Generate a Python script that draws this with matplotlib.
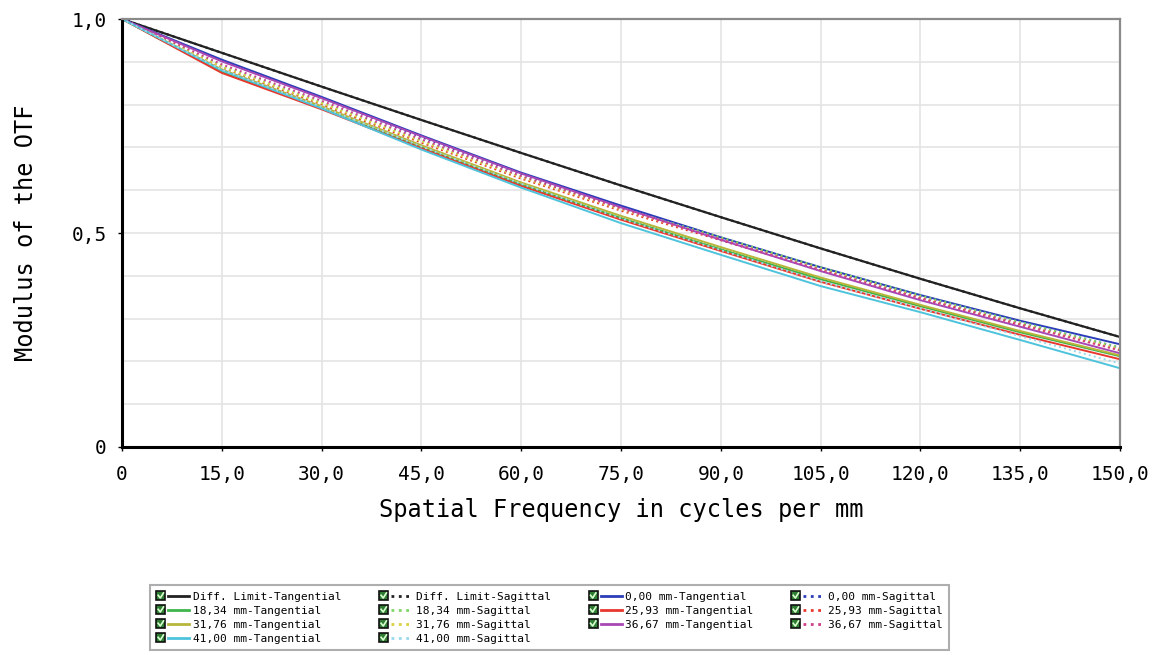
import matplotlib
matplotlib.use("Agg")
import matplotlib.pyplot as plt
from matplotlib.lines import Line2D
from matplotlib.patches import Rectangle
from matplotlib.legend_handler import HandlerBase

# ---- data ----
freq = [0, 15, 30, 45, 60, 75, 90, 105, 120, 135, 150]

diff_t = [1.000, 0.921, 0.842, 0.764, 0.687, 0.611, 0.537, 0.464, 0.393, 0.324, 0.257]
diff_s = [1.000, 0.921, 0.842, 0.764, 0.687, 0.611, 0.537, 0.464, 0.393, 0.324, 0.257]
f000_t = [1.000, 0.905, 0.818, 0.728, 0.641, 0.564, 0.490, 0.420, 0.355, 0.295, 0.240]
f000_s = [1.000, 0.902, 0.815, 0.724, 0.638, 0.561, 0.488, 0.418, 0.352, 0.291, 0.232]
f1834_t = [1.000, 0.876, 0.791, 0.700, 0.613, 0.535, 0.462, 0.392, 0.329, 0.268, 0.212]
f1834_s = [1.000, 0.890, 0.805, 0.716, 0.632, 0.558, 0.490, 0.420, 0.354, 0.292, 0.233]
f2593_t = [1.000, 0.874, 0.789, 0.698, 0.610, 0.531, 0.458, 0.386, 0.323, 0.262, 0.205]
f2593_s = [1.000, 0.885, 0.800, 0.711, 0.627, 0.552, 0.483, 0.413, 0.347, 0.285, 0.226]
f3176_t = [1.000, 0.882, 0.796, 0.705, 0.618, 0.540, 0.467, 0.396, 0.332, 0.271, 0.214]
f3176_s = [1.000, 0.888, 0.803, 0.714, 0.630, 0.555, 0.486, 0.416, 0.350, 0.288, 0.229]
f3667_t = [1.000, 0.901, 0.815, 0.726, 0.639, 0.560, 0.484, 0.411, 0.343, 0.281, 0.219]
f3667_s = [1.000, 0.894, 0.809, 0.719, 0.633, 0.557, 0.485, 0.414, 0.348, 0.287, 0.226]
f4100_t = [1.000, 0.880, 0.791, 0.695, 0.606, 0.523, 0.449, 0.376, 0.315, 0.250, 0.184]
f4100_s = [1.000, 0.882, 0.795, 0.702, 0.615, 0.534, 0.460, 0.387, 0.323, 0.259, 0.195]

labels = ["Diff. Limit-Tangential", "Diff. Limit-Sagittal",
          "0,00 mm-Tangential", "0,00 mm-Sagittal",
          "18,34 mm-Tangential", "18,34 mm-Sagittal",
          "25,93 mm-Tangential", "25,93 mm-Sagittal",
          "31,76 mm-Tangential", "31,76 mm-Sagittal",
          "36,67 mm-Tangential", "36,67 mm-Sagittal",
          "41,00 mm-Tangential", "41,00 mm-Sagittal"]
series = [diff_t, diff_s, f000_t, f000_s, f1834_t, f1834_s, f2593_t, f2593_s,
          f3176_t, f3176_s, f3667_t, f3667_s, f4100_t, f4100_s]
colors = ["#222222", "#222222", "#2b3db8", "#2b3db8", "#3fb44a", "#7fd66a",
          "#e8382e", "#e8382e", "#b7b53a", "#d8d040", "#a848b4", "#d0408c",
          "#4ec3dc", "#9ad8ec"]
styles = ["-", ":", "-", ":", "-", ":", "-", ":", "-", ":", "-", ":", "-", ":"]

xticks = [0, 15, 30, 45, 60, 75, 90, 105, 120, 135, 150]
xticklabels = ["0", "15,0", "30,0", "45,0", "60,0", "75,0", "90,0",
               "105,0", "120,0", "135,0", "150,0"]
yticks = [0, 0.5, 1.0]
yticklabels = ["0", "0,5", "1,0"]

mono = "DejaVu Sans Mono"

fig = plt.figure(figsize=(11.66, 6.55), dpi=100)
ax = fig.add_axes([122 / 1166, 1 - 447 / 655, (1120 - 122) / 1166, (447 - 19) / 655])

handles = []
for y, c, ls, lab in zip(series, colors, styles, labels):
    lw = 1.6 if c == "#222222" else 1.4
    h, = ax.plot(freq, y, color=c, ls=ls, lw=lw, label=lab)
    handles.append(h)

ax.set_xlim(0, 150)
ax.set_ylim(0, 1.0)
ax.set_xticks(xticks)
ax.set_xticklabels(xticklabels, fontfamily=mono, fontsize=14)
ax.set_yticks(yticks)
ax.set_yticklabels(yticklabels, fontfamily=mono, fontsize=14)
ax.set_yticks([i / 10 for i in range(11)], minor=True)
ax.grid(True, which="both", color="#e4e4e4", lw=1.2)
ax.set_axisbelow(True)
ax.tick_params(axis="x", which="major", length=3, width=1, pad=10)
ax.tick_params(axis="y", which="major", length=3, width=1, pad=8)
ax.tick_params(axis="y", which="minor", length=0)

for s in ["left", "bottom"]:
    ax.spines[s].set_color("black")
    ax.spines[s].set_linewidth(2.2)
for s in ["top", "right"]:
    ax.spines[s].set_color("#8a8a8a")
    ax.spines[s].set_linewidth(1.6)

ax.set_xlabel("Spatial Frequency in cycles per mm", fontfamily=mono, fontsize=17, labelpad=10)
ax.set_ylabel("Modulus of the OTF", fontfamily=mono, fontsize=17, labelpad=24)


class CheckHandler(HandlerBase):
    def create_artists(self, legend, orig_handle, xdescent, ydescent, width, height, fontsize, trans):
        s = height * 1.0
        y0 = -ydescent + (height - s) / 2
        x0 = -xdescent
        box = Rectangle((x0, y0), s, s, facecolor="#2e7d32", edgecolor="#111111", lw=1.2, transform=trans)
        chk = Line2D([x0 + 0.22 * s, x0 + 0.45 * s, x0 + 0.8 * s],
                     [y0 + 0.55 * s, y0 + 0.25 * s, y0 + 0.8 * s],
                     color="#d8ffd0", lw=1.2, transform=trans)
        ly = -ydescent + height / 2
        ln = Line2D([x0 + s + 2, x0 + width], [ly, ly], color=orig_handle.get_color(),
                    ls=orig_handle.get_linestyle(), lw=2.0, transform=trans)
        return [box, chk, ln]


order = [0, 4, 8, 12, 1, 5, 9, 13, 2, 6, 10, 3, 7, 11]
leg = fig.legend([handles[i] for i in order], [labels[i] for i in order],
                 ncol=4, loc="upper left", bbox_to_anchor=(150 / 1166, 1 - 585 / 655),
                 prop={"family": mono, "size": 8}, frameon=True, fancybox=False,
                 handler_map={Line2D: CheckHandler()}, handlelength=3.0, handleheight=0.9,
                 handletextpad=0.3, columnspacing=3.4, labelspacing=0.32,
                 borderpad=0.55, borderaxespad=0)
leg.get_frame().set_edgecolor("#9a9a9a")
leg.get_frame().set_linewidth(1.5)

fig.savefig("out.png", dpi=100)
